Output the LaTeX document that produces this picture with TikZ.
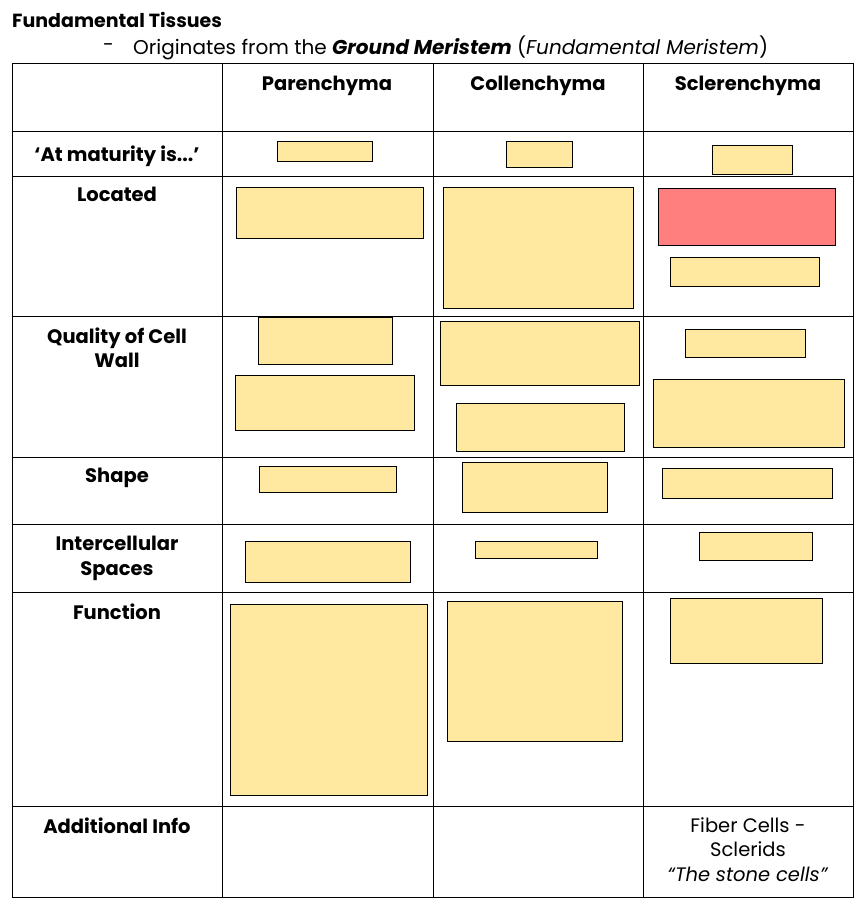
\documentclass[tikz,border=0pt]{standalone}
\usepackage{fontspec}
\setmainfont{Poppins}
\definecolor{yel}{HTML}{FFE9A1}
\definecolor{redb}{HTML}{FF7F7F}
\begin{document}
\begin{tikzpicture}[x=1pt,y=-1pt,
  cover/.style={draw=black,line width=0.6pt,fill=yel},
  redcover/.style={draw=black,line width=0.6pt,fill=redb},
  grid/.style={draw=black,line width=0.8pt},
  hdr/.style={font=\fontsize{19.5}{24.5}\selectfont\bfseries,align=center,anchor=north},
  txt/.style={font=\fontsize{19.5}{24.5}\selectfont,align=center}]
\useasboundingbox (0,0) rectangle (856,914);
\fill[white] (0,0) rectangle (856,914);
% title
\node[anchor=west,font=\fontsize{19}{22}\selectfont\bfseries,inner sep=0pt] (title) at (12,20) {Fundamental Tissues};
\node[anchor=west,txt,inner sep=0pt] (dash) at (103,48) {-};
\node[anchor=west,txt,inner sep=0pt,font=\fontsize{20}{24}\selectfont] (orig) at (133,48) {Originates from the \textbf{\itshape Ground Meristem} (\textit{Fundamental Meristem})};
% grid
\draw[grid] (12,63) rectangle (853,897);
\foreach \x in {222,433,643} \draw[grid] (\x,63) -- (\x,897);
\foreach \y in {131,176,316,457,524,592,806} \draw[grid] (12,\y) -- (853,\y);
% headers
\node[hdr] (h1) at (327,73) {Parenchyma};
\node[hdr] (h2) at (538,73) {Collenchyma};
\node[hdr] (h3) at (748,73) {Sclerenchyma};
\node[hdr] (r1) at (117,142) {‘At maturity is...’};
\node[hdr] (r2) at (117,184) {Located};
\node[hdr] (r3) at (117,324) {Quality of Cell\\Wall};
\node[hdr] (r4) at (117,465) {Shape};
\node[hdr] (r5) at (117,533) {Intercellular\\Spaces};
\node[hdr] (r6) at (117,600) {Function};
\node[hdr] (r7) at (117,814) {Additional Info};
\node[txt,anchor=north] (add) at (748,814) {Fiber Cells -\\Sclerids\\\textit{“The stone cells”}};
% covers
\draw[cover] (277,141) rectangle (372,161);
\draw[cover] (506,141) rectangle (572,167);
\draw[cover] (712,145) rectangle (792,174);
\draw[cover] (236,187) rectangle (423,238);
\draw[cover] (443,187) rectangle (633,308);
\draw[redcover] (658,188) rectangle (835,245);
\draw[cover] (670,257) rectangle (819,286);
\draw[cover] (258,317) rectangle (392,364);
\draw[cover] (235,375) rectangle (414,430);
\draw[cover] (440,321) rectangle (639,385);
\draw[cover] (456,403) rectangle (624,451);
\draw[cover] (685,329) rectangle (805,357);
\draw[cover] (653,379) rectangle (844,447);
\draw[cover] (259,466) rectangle (396,492);
\draw[cover] (462,462) rectangle (607,512);
\draw[cover] (662,468) rectangle (832,498);
\draw[cover] (245,541) rectangle (410,582);
\draw[cover] (475,541) rectangle (597,558);
\draw[cover] (699,532) rectangle (812,560);
\draw[cover] (230,604) rectangle (427,795);
\draw[cover] (447,601) rectangle (622,741);
\draw[cover] (670,598) rectangle (822,663);
\end{tikzpicture}
\end{document}
